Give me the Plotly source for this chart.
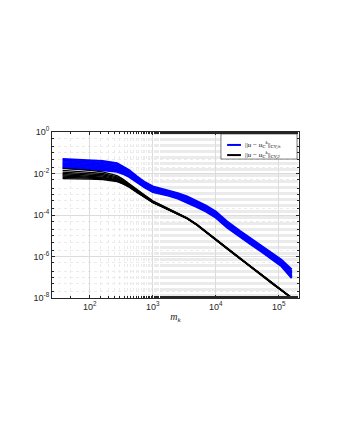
"""Errores CV frente a m_k (escala log-log)."""

import plotly.graph_objects as go

# grados de libertad m_k (comunes a todas las curvas)
m_k = [37, 50, 70, 100, 160, 270, 330, 420, 550, 750, 1000, 1400, 1800, 2500, 3500, 5000,
       7000, 10000, 15000, 24000, 35000, 55000, 80000, 110000, 160000]

# ||u - u_C^k||_{CV,inf}  (log10 del error, una lista por curva)
err_inf_log = [
    [-1.30, -1.32, -1.34, -1.36, -1.40, -1.50, -1.64, -1.84, -2.12, -2.42, -2.62, -2.74, -2.82, -2.95, -3.10, -3.32, -3.55, -3.84, -4.30, -4.76, -5.10, -5.50, -5.86, -6.16, -6.62],
    [-1.36, -1.38, -1.40, -1.43, -1.47, -1.56, -1.70, -1.90, -2.17, -2.46, -2.67, -2.78, -2.86, -3.00, -3.16, -3.37, -3.60, -3.89, -4.36, -4.82, -5.16, -5.56, -5.92, -6.22, -6.70],
    [-1.42, -1.44, -1.47, -1.50, -1.54, -1.62, -1.76, -1.96, -2.22, -2.50, -2.71, -2.82, -2.90, -3.04, -3.20, -3.42, -3.64, -3.93, -4.40, -4.86, -5.20, -5.60, -5.97, -6.27, -6.76],
    [-1.49, -1.51, -1.53, -1.56, -1.60, -1.68, -1.81, -2.00, -2.26, -2.54, -2.75, -2.85, -2.93, -3.07, -3.24, -3.46, -3.68, -3.97, -4.44, -4.90, -5.24, -5.64, -6.01, -6.31, -6.82],
    [-1.55, -1.57, -1.59, -1.62, -1.66, -1.74, -1.86, -2.04, -2.30, -2.58, -2.79, -2.89, -2.97, -3.11, -3.28, -3.50, -3.72, -4.01, -4.48, -4.94, -5.28, -5.68, -6.05, -6.35, -6.88],
    [-1.61, -1.63, -1.65, -1.68, -1.72, -1.80, -1.91, -2.08, -2.34, -2.62, -2.83, -2.93, -3.01, -3.15, -3.32, -3.54, -3.76, -4.05, -4.52, -4.98, -5.32, -5.72, -6.09, -6.39, -6.94],
    [-1.67, -1.69, -1.71, -1.74, -1.78, -1.86, -1.96, -2.12, -2.37, -2.65, -2.86, -2.96, -3.04, -3.18, -3.36, -3.58, -3.80, -4.09, -4.56, -5.02, -5.36, -5.76, -6.13, -6.43, -7.00],
    [-1.72, -1.74, -1.76, -1.79, -1.84, -1.92, -2.01, -2.16, -2.40, -2.68, -2.89, -2.99, -3.07, -3.21, -3.40, -3.62, -3.84, -4.13, -4.60, -5.06, -5.40, -5.80, -6.17, -6.47, -7.04],
]

# ||u - u_C^k||_{CV,2}
err_2_log = [
    [-1.75, -1.77, -1.80, -1.85, -1.92, -2.10, -2.26, -2.48, -2.75, -3.05, -3.32, -3.55, -3.72, -3.92, -4.14, -4.45, -4.80, -5.15, -5.60, -6.08, -6.45, -6.90, -7.30, -7.60, -7.98],
    [-1.85, -1.87, -1.90, -1.95, -2.00, -2.16, -2.31, -2.52, -2.78, -3.07, -3.34, -3.56, -3.73, -3.93, -4.15, -4.46, -4.81, -5.16, -5.61, -6.08, -6.46, -6.91, -7.31, -7.61, -7.99],
    [-1.93, -1.95, -1.98, -2.02, -2.06, -2.21, -2.35, -2.55, -2.81, -3.09, -3.36, -3.57, -3.74, -3.94, -4.16, -4.46, -4.82, -5.16, -5.61, -6.09, -6.46, -6.91, -7.32, -7.62, -8.00],
    [-2.00, -2.02, -2.05, -2.08, -2.12, -2.26, -2.39, -2.58, -2.83, -3.11, -3.37, -3.58, -3.75, -3.95, -4.16, -4.47, -4.82, -5.17, -5.62, -6.09, -6.47, -6.92, -7.32, -7.62, -8.00],
    [-2.06, -2.08, -2.10, -2.13, -2.17, -2.30, -2.42, -2.60, -2.85, -3.12, -3.38, -3.59, -3.75, -3.95, -4.17, -4.47, -4.83, -5.17, -5.62, -6.10, -6.47, -6.92, -7.33, -7.63, -8.00],
    [-2.12, -2.13, -2.15, -2.18, -2.21, -2.33, -2.45, -2.62, -2.87, -3.13, -3.39, -3.59, -3.76, -3.96, -4.17, -4.48, -4.83, -5.18, -5.62, -6.10, -6.48, -6.93, -7.33, -7.63, -8.01],
    [-2.18, -2.19, -2.20, -2.22, -2.25, -2.36, -2.47, -2.64, -2.88, -3.14, -3.40, -3.60, -3.76, -3.96, -4.18, -4.48, -4.84, -5.18, -5.63, -6.10, -6.48, -6.93, -7.34, -7.64, -8.01],
    [-2.25, -2.25, -2.26, -2.27, -2.29, -2.39, -2.49, -2.66, -2.90, -3.15, -3.41, -3.61, -3.77, -3.97, -4.18, -4.49, -4.84, -5.19, -5.63, -6.11, -6.49, -6.94, -7.34, -7.64, -8.01],
]

y_tickvals = [1e-8, 1e-6, 1e-4, 1e-2, 1]
y_ticktext = ["10<sup>-8</sup>", "10<sup>-6</sup>", "10<sup>-4</sup>", "10<sup>-2</sup>", "10<sup>0</sup>"]
x_tickvals = [1e2, 1e3, 1e4, 1e5]
x_ticktext = ["10<sup>2</sup>", "10<sup>3</sup>", "10<sup>4</sup>", "10<sup>5</sup>"]

lbl_inf = "||<i>u</i> − <i>u</i><sub><i>C</i></sub><sup><i>k</i></sup>||<sub><i>CV,∞</i></sub>"
lbl_2 = "||<i>u</i> − <i>u</i><sub><i>C</i></sub><sup><i>k</i></sup>||<sub><i>CV,2</i></sub>"
BLUE, BLACK = "#0000ff", "#000000"

fig = go.Figure()

# Curvas azules (norma infinito)
for curve in err_inf_log:
    fig.add_trace(go.Scatter(
        x=m_k, y=[10 ** v for v in curve],
        mode="lines", line=dict(color=BLUE, width=2),
        name=lbl_inf, showlegend=False,
    ))

# Curvas negras (norma 2)
for curve in err_2_log:
    fig.add_trace(go.Scatter(
        x=m_k, y=[10 ** v for v in curve],
        mode="lines", line=dict(color=BLACK, width=1.3),
        name=lbl_2, showlegend=False,
    ))

# Leyenda compacta estilo MATLAB (caja + muestras + textos)
fig.add_shape(type="rect", xref="paper", yref="paper", x0=0.684, x1=0.992, y0=0.837, y1=0.988,
              line=dict(color="#262626", width=0.6), fillcolor="white", layer="above")
for y_pos, color, lbl in [(0.922, BLUE, lbl_inf), (0.861, BLACK, lbl_2)]:
    fig.add_shape(type="line", xref="paper", yref="paper", x0=0.709, x1=0.765, y0=y_pos, y1=y_pos,
                  line=dict(color=color, width=2), layer="above")
    fig.add_annotation(xref="paper", yref="paper", x=0.773, y=y_pos, xanchor="left", yanchor="middle",
                       text=lbl, showarrow=False,
                       font=dict(family="Liberation Serif, Times New Roman", size=7, color="black"))

axis_common = dict(
    type="log", showline=True, linecolor="#262626", linewidth=1, mirror="allticks",
    ticks="inside", ticklen=3, tickcolor="#262626",
    showgrid=True, gridcolor="#dcdcdc", gridwidth=0.6,
    tickfont=dict(family="Liberation Sans, Arial", size=9, color="#262626"),
    zeroline=False,
    minor=dict(showgrid=True, gridcolor="#ebebeb", griddash="dot", gridwidth=0.6,
               ticks="inside", ticklen=2, tickcolor="#262626"),
)

# la pagina tiene 8 px de margen en el body: la figura se desplaza
fig.update_layout(
    width=324, height=424,
    margin=dict(l=44, r=33, t=124, b=134),
    paper_bgcolor="white", plot_bgcolor="white",
    font=dict(color="#262626"),
    xaxis=dict(axis_common, range=[1.40, 5.32], tickvals=x_tickvals, ticktext=x_ticktext,
               title=dict(text="<i>m</i><sub><i>k</i></sub>", standoff=2,
                          font=dict(family="Liberation Serif, Times New Roman", size=10,
                                    color="#262626"))),
    yaxis=dict(axis_common, range=[-8, 0], tickvals=y_tickvals, ticktext=y_ticktext),
    showlegend=False,
)

fig.write_html("out.html")
